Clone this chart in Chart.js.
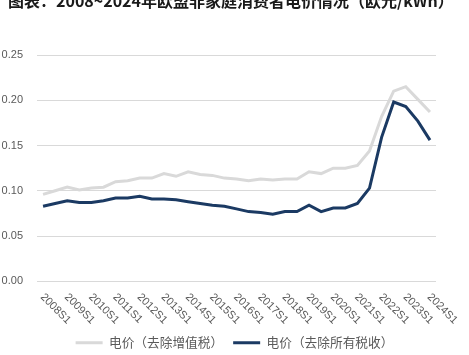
<!DOCTYPE html>
<html>
<head>
<meta charset="utf-8">
<script src="https://cdn.jsdelivr.net/npm/chart.js@4.4.1/dist/chart.umd.min.js"></script>
<style>
  html, body { margin: 0; padding: 0; background: #ffffff; overflow: hidden; }
  #wrap { position: relative; width: 469px; height: 355px; }
  #title { position: absolute; left: 8px; top: -10px; font: bold 16px "Noto Sans CJK SC", sans-serif; color: #1a1a1a; white-space: nowrap; line-height: 20px; }
  canvas { position: absolute; left: 0; top: 0; }
</style>
</head>
<body>
<div id="wrap">
  <canvas id="c" width="469" height="355"></canvas>
  <div id="title">图表：2008~2024年欧盟非家庭消费者电价情况（欧元/kWh）</div>
</div>
<script>
const categories = [
  "2008S1","2008S2","2009S1","2009S2","2010S1","2010S2","2011S1","2011S2",
  "2012S1","2012S2","2013S1","2013S2","2014S1","2014S2","2015S1","2015S2",
  "2016S1","2016S2","2017S1","2017S2","2018S1","2018S2","2019S1","2019S2",
  "2020S1","2020S2","2021S1","2021S2","2022S1","2022S2","2023S1","2023S2","2024S1"
];
const seriesNames = ["电价（去除增值税）", "电价（去除所有税收）"];
const priceExVat = [
  0.096, 0.100, 0.104, 0.101, 0.103, 0.104, 0.110, 0.111,
  0.114, 0.114, 0.119, 0.116, 0.121, 0.118, 0.117, 0.114,
  0.113, 0.111, 0.113, 0.112, 0.113, 0.113, 0.121, 0.119,
  0.125, 0.125, 0.128, 0.144, 0.182, 0.210, 0.215, 0.201, 0.187
];
const priceExAllTax = [
  0.083, 0.086, 0.089, 0.087, 0.087, 0.089, 0.092, 0.092,
  0.094, 0.091, 0.091, 0.090, 0.088, 0.086, 0.084, 0.083,
  0.080, 0.077, 0.076, 0.074, 0.077, 0.077, 0.084, 0.077,
  0.081, 0.081, 0.086, 0.103, 0.159, 0.198, 0.193, 0.177, 0.156
];
const yTicks = { min: 0, max: 0.25, step: 0.05 };
const xLabelEvery = 2;

const grayColor = "#d9d9d9";
const navyColor = "#1b3a63";
const textColor = "#595959";

const rotatedXLabels = {
  id: "rotatedXLabels",
  afterDraw(chart) {
    const xs = chart.scales.x;
    const ctx = chart.ctx;
    ctx.save();
    ctx.font = '11px "Liberation Sans", sans-serif';
    ctx.fillStyle = textColor;
    ctx.textAlign = "left";
    ctx.textBaseline = "middle";
    const y0 = chart.chartArea.bottom + 14;
    categories.forEach((lab, i) => {
      if (i % xLabelEvery !== 0) return;
      const x = xs.getPixelForValue(i);
      ctx.save();
      ctx.translate(x - 1, y0);
      ctx.rotate(Math.PI / 4);
      ctx.fillText(lab, 0, 0);
      ctx.restore();
    });
    ctx.restore();
  }
};

new Chart(document.getElementById("c"), {
  type: "line",
  data: {
    labels: categories,
    datasets: [
      { label: seriesNames[0], data: priceExVat, borderColor: grayColor, backgroundColor: grayColor,
        borderWidth: 3, pointRadius: 0, tension: 0, pointStyle: "line", yAxisID: "y" },
      { label: seriesNames[1], data: priceExAllTax, borderColor: navyColor, backgroundColor: navyColor,
        borderWidth: 3, pointRadius: 0, tension: 0, pointStyle: "line", yAxisID: "y" }
    ]
  },
  options: {
    responsive: false,
    animation: false,
    devicePixelRatio: 1,
    layout: { padding: { left: 0, top: 55, right: 0, bottom: -4 } },
    plugins: {
      title: { display: false },
      tooltip: { enabled: false },
      legend: {
        position: "bottom",
        labels: {
          usePointStyle: true,
          pointStyle: "line",
          pointStyleWidth: 27,
          boxHeight: 13,
          padding: 10,
          color: textColor,
          font: { family: '"Noto Sans CJK SC", sans-serif', size: 12.7 }
        }
      }
    },
    scales: {
      x: {
        offset: true,
        grid: { display: false },
        border: { display: false },
        ticks: { display: false },
        afterFit(s) { s.height = 45; }
      },
      y: {
        min: yTicks.min,
        max: yTicks.max,
        border: { display: false },
        grid: { color: "#d9d9d9", lineWidth: 1, drawTicks: false },
        ticks: {
          stepSize: yTicks.step,
          padding: 14,
          color: textColor,
          font: { family: '"Liberation Sans", sans-serif', size: 11 },
          callback: v => v.toFixed(2)
        },
        afterFit(s) { s.width = 37; }
      },
      yRight: {
        position: "right",
        min: yTicks.min,
        max: yTicks.max,
        grid: { display: false, drawTicks: false },
        border: { display: false },
        ticks: { display: false },
        afterFit(s) { s.width = 33; }
      }
    }
  },
  plugins: [rotatedXLabels]
});
</script>
</body>
</html>
